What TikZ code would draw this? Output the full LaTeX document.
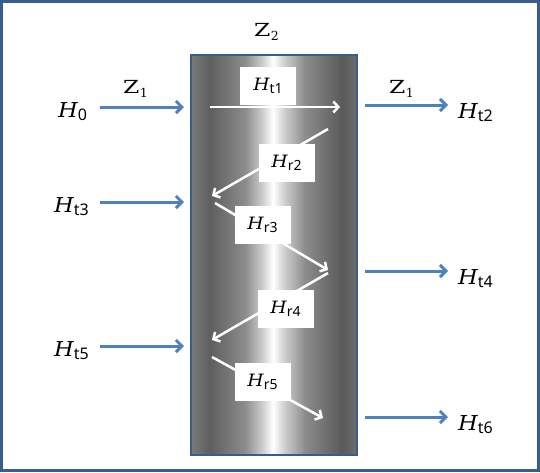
\documentclass[tikz,border=0pt]{standalone}
\usepackage{fontspec}
\setmainfont{DejaVu Serif}
\newfontfamily\subf{Noto Sans}
\usetikzlibrary{arrows.meta}
\definecolor{frameblue}{HTML}{385D8A}
\definecolor{arrowblue}{HTML}{4F81BD}
\pgfdeclarehorizontalshading{colshade}{100bp}{%
  color(0bp)=(black!52); color(25bp)=(black!52); color(30.7bp)=(black!63);
  color(41.3bp)=(black!45); color(46.4bp)=(black!20); color(49.7bp)=(white);
  color(53.3bp)=(black!20); color(59.3bp)=(black!45); color(70.5bp)=(black!65);
  color(75bp)=(black!57); color(100bp)=(black!57)}
\newcommand\HO[1]{\fontsize{20.5}{20.5}\selectfont\scalebox{1.1}[1]{\itshape H}\upshape\raisebox{-3.5pt}{\fontsize{16}{16}\subf #1}}
\newcommand\HI[1]{\fontsize{17}{17}\selectfont\scalebox{1.1}[1]{\itshape H}\upshape\raisebox{-3pt}{\fontsize{14}{14}\subf #1}}
\newcommand\ZZ[1]{\fontsize{18}{18}\selectfont\scalebox{1.3}[1]{Z}\kern0.5pt\raisebox{-4pt}{\fontsize{12.5}{12.5}\selectfont #1}}
\tikzset{
  bluearrow/.style={draw=arrowblue, line width=3pt, -{Straight Barb[length=6pt,width=12pt]}},
  whitearrow/.style={draw=white, line width=2.5pt, -{Straight Barb[length=5pt,width=11pt]}},
  labelbox/.style={fill=white, minimum width=56pt, minimum height=38pt, inner sep=0pt},
  outertext/.style={anchor=base west, inner sep=0pt},
}
\begin{document}
\begin{tikzpicture}[x=1pt,y=-1pt]
\useasboundingbox (0,0) rectangle (540,472);
% outer frame
\draw[frameblue, line width=3pt] (1.5,1.5) rectangle (538.5,470.5);
% column
\path[shading=colshade] (191,55) rectangle (357,455);
\draw[frameblue, line width=2.5pt] (191,55) rectangle (357,455);
% column label
\node[outertext] (z2) at (254,36) {\ZZ{2}};
% left side
\node[outertext] (z1l) at (123,93) {\ZZ{1}};
\node[outertext] (h0) at (58,117) {\HO{0}};
\node[outertext] (ht3) at (54,212) {\HO{t3}};
\node[outertext] (ht5) at (54,356) {\HO{t5}};
\coordinate (l1s) at (100,107); \coordinate (l1e) at (184,107);
\coordinate (l2s) at (100,202); \coordinate (l2e) at (184,202);
\coordinate (l3s) at (100,346); \coordinate (l3e) at (184,346);
\draw[bluearrow] (l1s) -- (l1e);
\draw[bluearrow] (l2s) -- (l2e);
\draw[bluearrow] (l3s) -- (l3e);
% right side
\node[outertext] (z1r) at (389,93) {\ZZ{1}};
\node[outertext] (ht2) at (458,118) {\HO{t2}};
\node[outertext] (ht4) at (458,284) {\HO{t4}};
\node[outertext] (ht6) at (458,430) {\HO{t6}};
\coordinate (r1s) at (365,105); \coordinate (r1e) at (448,105);
\coordinate (r2s) at (365,271); \coordinate (r2e) at (448,271);
\coordinate (r3s) at (365,417); \coordinate (r3e) at (448,417);
\draw[bluearrow] (r1s) -- (r1e);
\draw[bluearrow] (r2s) -- (r2e);
\draw[bluearrow] (r3s) -- (r3e);
% inner arrows
\coordinate (w1s) at (210,107); \coordinate (w1e) at (340,107);
\coordinate (w2s) at (328,129); \coordinate (w2e) at (212,196);
\coordinate (w3s) at (215,203); \coordinate (w3e) at (328,270);
\coordinate (w4s) at (328,273); \coordinate (w4e) at (212,340);
\coordinate (w5s) at (212,357); \coordinate (w5e) at (323,418);
\draw[whitearrow] (w1s) -- (w1e);
\draw[whitearrow] (w2s) -- (w2e);
\draw[whitearrow] (w3s) -- (w3e);
\draw[whitearrow] (w4s) -- (w4e);
\draw[whitearrow] (w5s) -- (w5e);
% inner labels
\node[labelbox] (lt1) at (268,86) {\HI{t1}};
\node[labelbox] (lr2) at (286.5,162.5) {\HI{r2}};
\node[labelbox] (lr3) at (262.5,224.5) {\HI{r3}};
\node[labelbox] (lr4) at (285.5,309) {\HI{r4}};
\node[labelbox] (lr5) at (262.5,381.5) {\HI{r5}};
\end{tikzpicture}
\end{document}
